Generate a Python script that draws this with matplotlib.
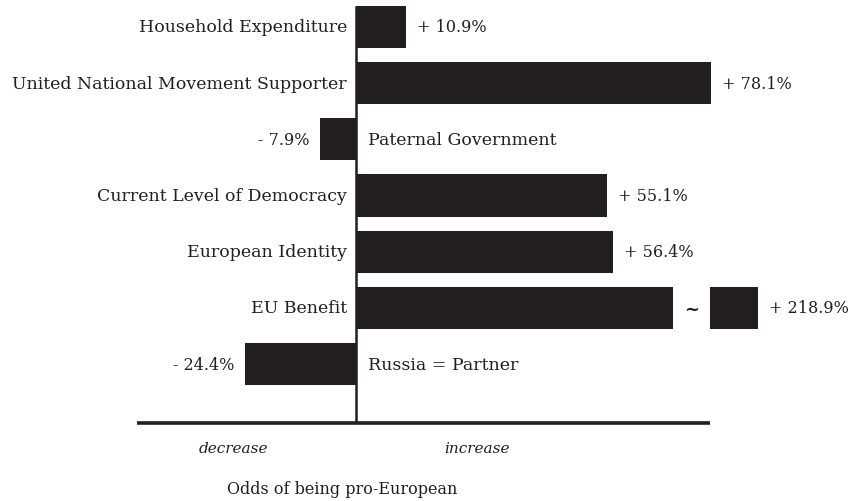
import matplotlib
matplotlib.use("Agg")
import matplotlib.pyplot as plt

categories = ["Household Expenditure", "United National Movement Supporter",
              "Paternal Government", "Current Level of Democracy",
              "European Identity", "EU Benefit", "Russia = Partner"]
values = [10.9, 78.1, -7.9, 55.1, 56.4, 218.9, -24.4]
value_labels = ["+ 10.9%", "+ 78.1%", "- 7.9%", "+ 55.1%", "+ 56.4%", "+ 218.9%", "- 24.4%"]

# broken-bar display settings (for the outlier)
break_limit = 100.0      # values above this are drawn broken
break_at = 69.7          # where the main segment stops
stub_start = 77.8
stub_end = 88.4

BAR = "#231f20"
FONT = "DejaVu Serif"
FS = 12.5
FSV = 11.5

fig = plt.figure(figsize=(8.5, 5.02), dpi=100)
ax = fig.add_axes([0, 0, 1, 1])
pxpp = 4.55
x0 = 356
ax.set_xlim(-x0 / pxpp, (850 - x0) / pxpp)
rowh = 56.17
ax.set_ylim((502 - 28) / rowh, -28 / rowh)
ax.axis("off")

h = 0.75
gap = 11 / pxpp
for i, (cat, v, lab) in enumerate(zip(categories, values, value_labels)):
    if v > break_limit:
        ax.barh(i, break_at, height=h, color=BAR, left=0)
        ax.barh(i, stub_end - stub_start, height=h, color=BAR, left=stub_start)
        ax.text((break_at + stub_start) / 2, i + 0.02, "~", ha="center", va="center",
                fontsize=13, fontweight="bold", family=FONT, color=BAR)
        end = stub_end
    else:
        ax.barh(i, v, height=h, color=BAR, left=0)
        end = v
    if v >= 0:
        ax.text(end + gap, i, lab, ha="left", va="center", fontsize=FSV, family=FONT, color=BAR)
        ax.text(-9 / pxpp, i, cat, ha="right", va="center", fontsize=FS, family=FONT, color=BAR)
    else:
        ax.text(end - gap, i, lab, ha="right", va="center", fontsize=FSV, family=FONT, color=BAR)
        ax.text(12 / pxpp, i, cat, ha="left", va="center", fontsize=FS, family=FONT, color=BAR)

axis_y = (424 - 28) / rowh
ax.plot([(137 - x0) / pxpp, (710 - x0) / pxpp], [axis_y, axis_y], color=BAR, lw=2.6,
        solid_capstyle="butt")
ax.plot([0, 0], [-h / 2, axis_y], color=BAR, lw=1.8, solid_capstyle="butt")

ax.text((233 - x0) / pxpp, (449 - 28) / rowh, "decrease", ha="center", va="center",
        fontsize=11, style="italic", family=FONT, color=BAR)
ax.text((477 - x0) / pxpp, (449 - 28) / rowh, "increase", ha="center", va="center",
        fontsize=11, style="italic", family=FONT, color=BAR)
ax.text((342 - x0) / pxpp, (490 - 28) / rowh, "Odds of being pro-European", ha="center", va="center",
        fontsize=11.5, family=FONT, color=BAR)

fig.savefig("out.png", dpi=100)
